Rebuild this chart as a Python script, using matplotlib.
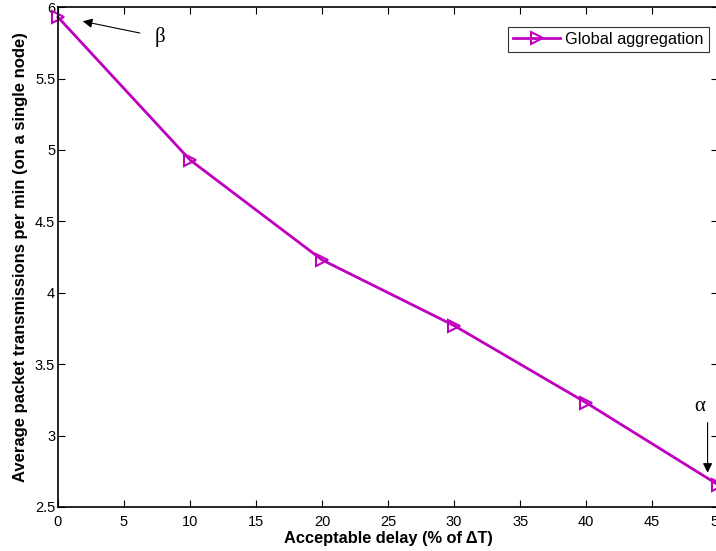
import numpy as np
import matplotlib
matplotlib.use("Agg")
import matplotlib.pyplot as plt

plt.rcParams['font.family'] = ['Liberation Sans', 'DejaVu Sans']

# data
delay = [0, 10, 20, 30, 40, 50]
tx_per_min = [5.93, 4.93, 4.23, 3.77, 3.23, 2.655]
xticks = [0, 5, 10, 15, 20, 25, 30, 35, 40, 45, 50]
yticks = [2.5, 3, 3.5, 4, 4.5, 5, 5.5, 6]

fig = plt.figure(figsize=(7.16, 5.51), dpi=100)
ax = fig.add_axes([0.081, 0.08, 0.922, 0.907])

ax.plot(delay, tx_per_min, color='#bf00bf', lw=2, marker='>', markersize=8,
        markerfacecolor='none', markeredgecolor='#bf00bf', markeredgewidth=1.5,
        label='Global aggregation', clip_on=False)

ax.set_xlim(0, 50)
ax.set_ylim(2.5, 6)
ax.set_xticks(xticks)
ax.set_yticks(yticks)
ax.set_xticklabels([str(t) for t in xticks])
ax.set_yticklabels(['2.5', '3', '3.5', '4', '4.5', '5', '5.5', '6'])
ax.tick_params(direction='in', top=True, right=True, labelsize=10.5, length=5)
ax.tick_params(axis='x', pad=6)
ax.tick_params(axis='y', pad=2)
for s in ax.spines.values():
    s.set_linewidth(1.2)

ax.set_xlabel('Acceptable delay (% of \u0394T)', fontsize=11.8, fontweight='bold', labelpad=1)
ax.set_ylabel('Average packet transmissions per min (on a single node)', fontsize=12,
              fontweight='bold', labelpad=5)

# annotations
ax.annotate('', xy=(1.67, 5.905), xytext=(6.4, 5.815),
            arrowprops=dict(arrowstyle='-|>', color='k', lw=0.8, mutation_scale=14))
ax.text(7.7, 5.79, '\u03b2', fontsize=15, family='Liberation Serif', ha='center', va='center')
ax.annotate('', xy=(49.2, 2.72), xytext=(49.2, 3.11),
            arrowprops=dict(arrowstyle='-|>', color='k', lw=0.8, mutation_scale=14))
ax.text(48.6, 3.2, '\u03b1', fontsize=15, family='Liberation Serif', ha='center', va='center')

leg = ax.legend(loc='upper right', fontsize=11.8, frameon=True, fancybox=False,
                borderpad=0.3, handlelength=2.9, handletextpad=0.3,
                bbox_to_anchor=(0.998, 0.977))
leg.get_frame().set_edgecolor('k')
leg.get_frame().set_linewidth(0.8)

fig.savefig('out.png', dpi=100)
